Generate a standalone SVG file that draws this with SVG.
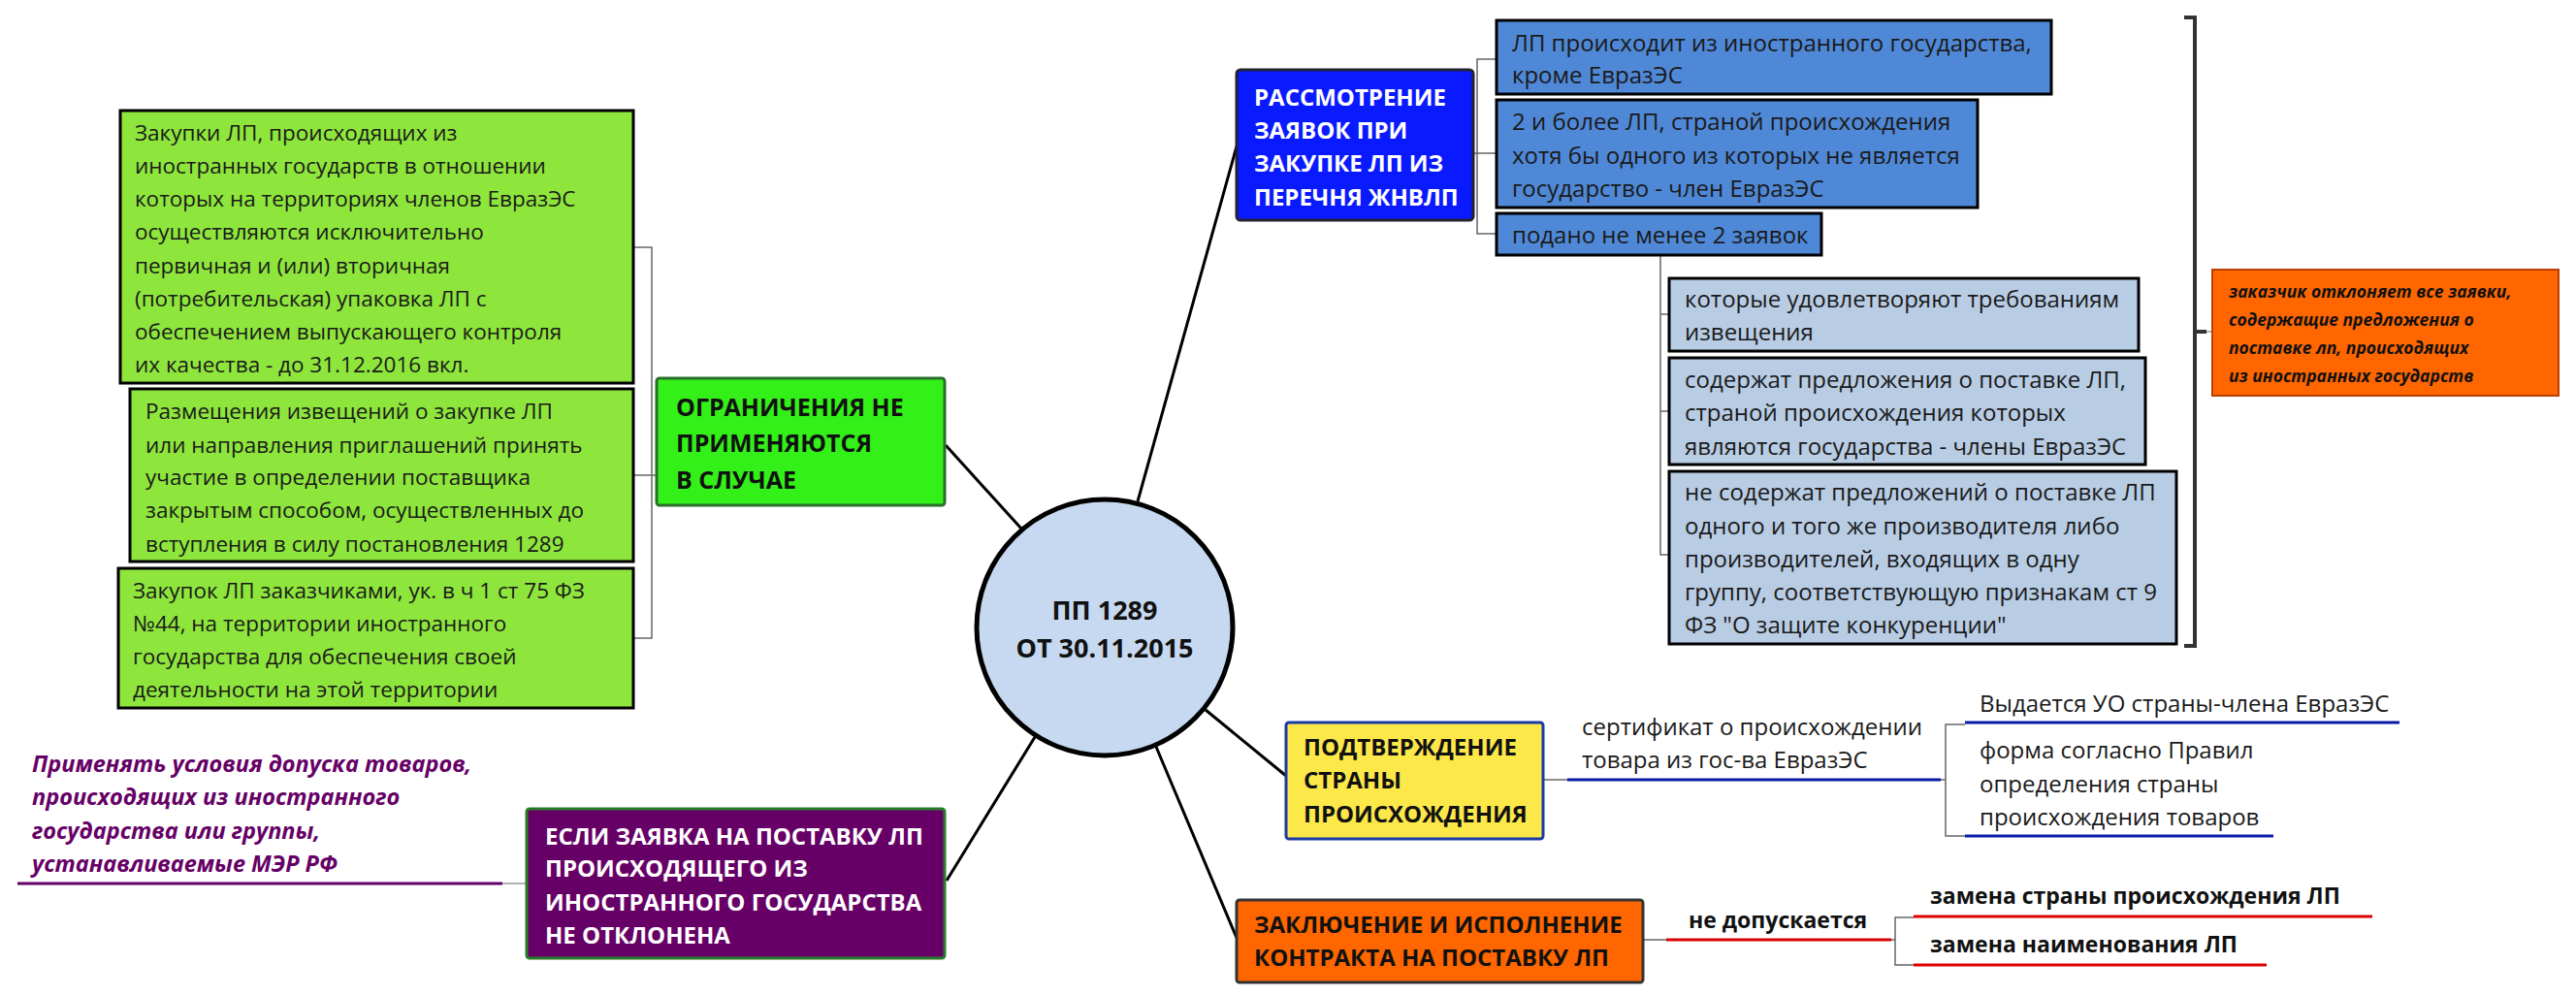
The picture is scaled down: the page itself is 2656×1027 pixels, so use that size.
<svg xmlns="http://www.w3.org/2000/svg" width="2656" height="1027" viewBox="0 0 2656 1027">
<style>
.t{font-family:"Open Sans","Liberation Sans",sans-serif;font-size:24px;fill:#1a1a1a}
.g{font-size:22.5px}
.h{font-family:"Open Sans","Liberation Sans",sans-serif;font-size:25px;font-weight:bold;fill:#111}
.w{fill:#fff}
.i{font-family:"Open Sans","Liberation Sans",sans-serif;font-weight:bold;font-style:italic}
.c{fill:none;stroke:#000;stroke-width:3}
.br{fill:none;stroke:#666;stroke-width:1.5}
.bx{stroke:#000;stroke-width:3}
</style>
<g id="connectors">
<line class="c" x1="1053" y1="545" x2="975" y2="459"/>
<line class="c" x1="1173" y1="517" x2="1275" y2="151"/>
<line class="c" x1="1067" y1="760" x2="976" y2="908"/>
<line class="c" x1="1243" y1="732" x2="1326" y2="800"/>
<line class="c" x1="1192" y1="770" x2="1275" y2="967"/>
<path class="br" d="M653 255 H672 V658 H653 M653 490 H677"/>
<path class="br" d="M1543 61 H1523 V241 H1543 M1519 158 H1543"/>
<path class="br" d="M1712 263 V572 H1721 M1712 324 H1721 M1712 424 H1721"/>
<path fill="none" stroke="#333" stroke-width="4" d="M2252 18 H2263 V666 H2252 M2263 342 H2275"/>
<line x1="2275" y1="342" x2="2281" y2="342" stroke="#999" stroke-width="1.5"/>
<path class="br" d="M1591 804 H1616"/>
<line x1="1616" y1="804" x2="2001" y2="804" stroke="#0a1aa8" stroke-width="3"/>
<path class="br" d="M2001 804 H2006 M2026 747 H2006 V862 H2026"/>
<line x1="2026" y1="745" x2="2474" y2="745" stroke="#0a1aa8" stroke-width="3"/>
<line x1="2026" y1="862" x2="2344" y2="862" stroke="#0a1aa8" stroke-width="3"/>
<path class="br" d="M1694 969 H1718"/>
<line x1="1718" y1="969" x2="1950" y2="969" stroke="#dd0000" stroke-width="3"/>
<path class="br" d="M1950 969 H1954 M1973 946 H1954 V995 H1973"/>
<line x1="1973" y1="945" x2="2446" y2="945" stroke="#dd0000" stroke-width="3"/>
<line x1="1973" y1="995" x2="2337" y2="995" stroke="#dd0000" stroke-width="3"/>
<line x1="18" y1="911" x2="518" y2="911" stroke="#660066" stroke-width="3"/>
<line x1="518" y1="911" x2="543" y2="911" stroke="#999" stroke-width="1.5"/>
</g>
<g id="center">
<circle cx="1139" cy="647" r="132" fill="#c6d9f0" stroke="#000" stroke-width="5"/>
<text class="h" x="1139" y="639" text-anchor="middle" style="font-size:27px">ПП 1289</text>
<text class="h" x="1139" y="678" text-anchor="middle" style="font-size:27px">ОТ 30.11.2015</text>
</g>
<g id="green-main">
<rect x="677" y="390" width="297" height="131" rx="3" fill="#33f019" stroke="#2a6e2a" stroke-width="3"/>
<text class="h"><tspan x="697" y="429">ОГРАНИЧЕНИЯ НЕ</tspan><tspan x="697" y="466">ПРИМЕНЯЮТСЯ</tspan><tspan x="697" y="504">В СЛУЧАЕ</tspan></text>
</g>
<g id="g1">
<rect class="bx" x="124" y="114" width="529" height="281" fill="#8ee63c"/>
<text class="t g"><tspan x="139" y="145">Закупки ЛП, происходящих из</tspan><tspan x="139" y="179">иностранных государств в отношении</tspan><tspan x="139" y="213">которых на территориях членов  ЕвразЭС</tspan><tspan x="139" y="247">осуществляются исключительно</tspan><tspan x="139" y="282">первичная и (или) вторичная</tspan><tspan x="139" y="316">(потребительская) упаковка ЛП с</tspan><tspan x="139" y="350">обеспечением выпускающего контроля</tspan><tspan x="139" y="384">их качества - до 31.12.2016 вкл.</tspan></text>
</g>
<g id="g2">
<rect class="bx" x="134" y="401" width="519" height="178" fill="#8ee63c"/>
<text class="t g"><tspan x="150" y="432">Размещения извещений о закупке ЛП</tspan><tspan x="150" y="467">или направления приглашений принять</tspan><tspan x="150" y="500">участие в определении поставщика</tspan><tspan x="150" y="534">закрытым способом, осуществленных до</tspan><tspan x="150" y="569">вступления в силу постановления 1289</tspan></text>
</g>
<g id="g3">
<rect class="bx" x="122" y="586" width="531" height="144" fill="#8ee63c"/>
<text class="t g"><tspan x="137" y="617">Закупок ЛП заказчиками, ук. в ч 1 ст 75 ФЗ</tspan><tspan x="137" y="651">№44,  на территории иностранного</tspan><tspan x="137" y="685">государства для обеспечения своей</tspan><tspan x="137" y="719">деятельности на этой территории</tspan></text>
</g>
<g id="purple-note">
<text class="i" style="font-size:23.5px;fill:#660066"><tspan x="33" y="796">Применять условия допуска товаров,</tspan><tspan x="33" y="830">происходящих из иностранного</tspan><tspan x="33" y="865">государства или группы,</tspan><tspan x="33" y="899">устанавливаемые МЭР РФ</tspan></text>
</g>
<g id="purple-main">
<rect x="543" y="834" width="431" height="154" rx="3" fill="#660066" stroke="#2a7a2a" stroke-width="3"/>
<text class="h w" style="font-size:24px"><tspan x="562" y="871">ЕСЛИ ЗАЯВКА НА ПОСТАВКУ ЛП</tspan><tspan x="562" y="904">ПРОИСХОДЯЩЕГО ИЗ</tspan><tspan x="562" y="939">ИНОСТРАННОГО ГОСУДАРСТВА</tspan><tspan x="562" y="973">НЕ ОТКЛОНЕНА</tspan></text>
</g>
<g id="blue-main">
<rect x="1275" y="72" width="244" height="155" rx="4" fill="#0a1aff" stroke="#223" stroke-width="3"/>
<text class="h w" style="font-size:24px"><tspan x="1293" y="109">РАССМОТРЕНИЕ</tspan><tspan x="1293" y="143">ЗАЯВОК ПРИ</tspan><tspan x="1293" y="177">ЗАКУПКЕ ЛП ИЗ</tspan><tspan x="1293" y="212">ПЕРЕЧНЯ ЖНВЛП</tspan></text>
</g>
<g id="b1">
<rect class="bx" x="1543" y="21" width="572" height="76" fill="#4f88d6"/>
<text class="t"><tspan x="1559" y="53">ЛП происходит из иностранного государства,</tspan><tspan x="1559" y="86">кроме ЕвразЭС</tspan></text>
</g>
<g id="b2">
<rect class="bx" x="1543" y="103" width="496" height="111" fill="#4f88d6"/>
<text class="t"><tspan x="1559" y="134">2 и более ЛП, страной происхождения</tspan><tspan x="1559" y="169">хотя бы одного из которых не является</tspan><tspan x="1559" y="203">государство - член ЕвразЭС</tspan></text>
</g>
<g id="b3">
<rect class="bx" x="1543" y="220" width="335" height="43" fill="#4f88d6"/>
<text class="t" x="1559" y="251">подано не менее 2 заявок</text>
</g>
<g id="l1">
<rect class="bx" x="1721" y="287" width="484" height="75" fill="#b8cce4"/>
<text class="t"><tspan x="1737" y="317">которые удовлетворяют требованиям</tspan><tspan x="1737" y="351">извещения</tspan></text>
</g>
<g id="l2">
<rect class="bx" x="1721" y="369" width="491" height="110" fill="#b8cce4"/>
<text class="t"><tspan x="1737" y="400">содержат предложения о поставке ЛП,</tspan><tspan x="1737" y="434">страной происхождения которых</tspan><tspan x="1737" y="469">являются государства - члены ЕвразЭС</tspan></text>
</g>
<g id="l3">
<rect class="bx" x="1721" y="486" width="523" height="178" fill="#b8cce4"/>
<text class="t"><tspan x="1737" y="516">не содержат предложений о поставке ЛП</tspan><tspan x="1737" y="551">одного и того же производителя либо</tspan><tspan x="1737" y="585">производителей, входящих в одну</tspan><tspan x="1737" y="619">группу, соответствующую признакам ст 9</tspan><tspan x="1737" y="653">ФЗ "О защите конкуренции"</tspan></text>
</g>
<g id="orange-note">
<rect x="2281" y="278" width="357" height="130" fill="#ff6600" stroke="#b84000" stroke-width="2"/>
<text class="i" style="font-size:17.5px;fill:#111"><tspan x="2298" y="307">заказчик отклоняет все заявки,</tspan><tspan x="2298" y="336">содержащие предложения о</tspan><tspan x="2298" y="365">поставке лп, происходящих</tspan><tspan x="2298" y="394">из иностранных государств</tspan></text>
</g>
<g id="yellow-main">
<rect x="1326" y="745" width="265" height="120" rx="3" fill="#fde84a" stroke="#1a3aa8" stroke-width="3"/>
<text class="h" style="font-size:24px"><tspan x="1344" y="779">ПОДТВЕРЖДЕНИЕ</tspan><tspan x="1344" y="813">СТРАНЫ</tspan><tspan x="1344" y="848">ПРОИСХОЖДЕНИЯ</tspan></text>
</g>
<g id="cert">
<text class="t"><tspan x="1631" y="758">сертификат о происхождении</tspan><tspan x="1631" y="792">товара из гос-ва ЕвразЭС</tspan></text>
</g>
<g id="issued"><text class="t" x="2041" y="734">Выдается УО страны-члена ЕвразЭС</text></g>
<g id="form"><text class="t"><tspan x="2041" y="782">форма согласно Правил</tspan><tspan x="2041" y="817">определения страны</tspan><tspan x="2041" y="851">происхождения товаров</tspan></text></g>
<g id="orange-main">
<rect x="1275" y="928" width="419" height="85" rx="3" fill="#ff6600" stroke="#333" stroke-width="3"/>
<text class="h" style="font-size:24px"><tspan x="1293" y="962">ЗАКЛЮЧЕНИЕ И ИСПОЛНЕНИЕ</tspan><tspan x="1293" y="996">КОНТРАКТА НА ПОСТАВКУ ЛП</tspan></text>
</g>
<g id="notallowed"><text class="h" x="1741" y="957" style="font-size:23px">не допускается</text></g>
<g id="r1"><text class="h" x="1990" y="932" style="font-size:23px">замена страны происхождения ЛП</text></g>
<g id="r2"><text class="h" x="1990" y="982" style="font-size:23px">замена наименования ЛП</text></g>
</svg>
